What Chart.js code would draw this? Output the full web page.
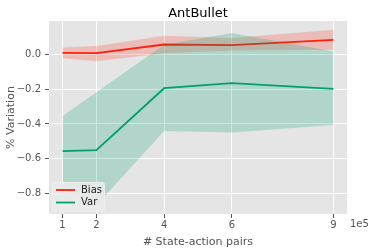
<!DOCTYPE html>
<html>
<head>
<meta charset="utf-8">
<script src="https://cdn.jsdelivr.net/npm/chart.js@4"></script>
<style>
  body { margin: 0; background: #ffffff; }
  canvas { display: block; }
</style>
</head>
<body>
<canvas id="chart" width="374" height="251"></canvas>
<script>
// values
const pairs = [1, 2, 4, 6, 9];             // x, in units of 1e5
const xTickValues = [1, 2, 4, 6, 9];
const yTickValues = [-0.8, -0.6, -0.4, -0.2, 0.0];

const biasMean = [0.012, 0.010, 0.060, 0.056, 0.087];
const biasLow = [-0.019, -0.037, 0.010, 0.025, 0.029];
const biasHigh = [0.042, 0.052, 0.110, 0.097, 0.145];

const varMean = [-0.557, -0.551, -0.193, -0.164, -0.197];
const varLow = [-0.760, -0.870, -0.440, -0.450, -0.406];
const varHigh = [-0.354, -0.216, 0.058, 0.126, 0.019];

const RED = '#ff1f0a';
const GREEN = '#009e73';
const FONT = "'DejaVu Sans', sans-serif";

const toPoints = (ys) => pairs.map((x, i) => ({ x: x, y: ys[i] }));

const lineSet = (label, ys, color) => ({
    label: label,
    data: toPoints(ys),
    borderColor: color,
    borderWidth: 1.8,
    pointRadius: 0,
    fill: false
});

const bandSet = (ys, fillTo, color) => ({
    data: toPoints(ys),
    borderWidth: 0,
    borderColor: 'rgba(0,0,0,0)',
    pointRadius: 0,
    backgroundColor: color,
    fill: fillTo
});

// text that matplotlib draws around the axes, plus the legend box
const decorations = {
    id: 'decorations',
    afterDatasetsDraw(chart) {
        const ctx = chart.ctx;

        // legend
        ctx.save();
        ctx.fillStyle = 'rgba(234,234,234,0.88)';
        ctx.strokeStyle = 'rgba(240,240,240,0.9)';
        ctx.lineWidth = 1;
        ctx.beginPath();
        ctx.roundRect(52.5, 182.5, 52, 28.5, 2);
        ctx.fill();
        ctx.stroke();
        const entries = [['Bias', RED, 190], ['Var', GREEN, 202.5]];
        entries.forEach(([name, color, y]) => {
            ctx.strokeStyle = color;
            ctx.lineWidth = 1.8;
            ctx.beginPath();
            ctx.moveTo(56, y);
            ctx.lineTo(75, y);
            ctx.stroke();
            ctx.fillStyle = '#222222';
            ctx.font = '10px ' + FONT;
            ctx.textAlign = 'left';
            ctx.textBaseline = 'middle';
            ctx.fillText(name, 81, y);
        });
        ctx.restore();
    },
    afterDraw(chart) {
        const ctx = chart.ctx;
        const area = chart.chartArea;
        const cx = (area.left + area.right) / 2;
        const cy = (area.top + area.bottom) / 2;
        ctx.save();
        ctx.fillStyle = '#000000';
        ctx.font = '13px ' + FONT;
        ctx.textAlign = 'center';
        ctx.textBaseline = 'alphabetic';
        ctx.fillText('AntBullet', cx, 17);

        ctx.fillStyle = '#555555';
        ctx.font = '11px ' + FONT;
        ctx.fillText('# State-action pairs', cx, 245);

        ctx.font = '10px ' + FONT;
        ctx.textAlign = 'left';
        ctx.textBaseline = 'top';
        ctx.fillText('1e5', 350, 219);

        ctx.font = '11px ' + FONT;
        ctx.translate(11, cy);
        ctx.rotate(-Math.PI / 2);
        ctx.textAlign = 'center';
        ctx.textBaseline = 'middle';
        ctx.fillText('% Variation', 0, 0);
        ctx.restore();
    }
};

new Chart(document.getElementById('chart'), {
    type: 'line',
    data: {
        // datasets are painted last-first: bias band, bias line, var band, var line
        datasets: [
            lineSet('Var', varMean, GREEN),
            bandSet(varLow, 2, 'rgba(0,158,115,0.22)'),
            bandSet(varHigh, false, 'rgba(0,0,0,0)'),
            lineSet('Bias', biasMean, RED),
            bandSet(biasLow, 5, 'rgba(255,31,10,0.2)'),
            bandSet(biasHigh, false, 'rgba(0,0,0,0)')
        ]
    },
    options: {
        responsive: false,
        animation: false,
        events: [],
        layout: {
            padding: { top: 21, right: 27, left: 0, bottom: 0 }
        },
        plugins: {
            legend: { display: false },
            title: { display: false },
            tooltip: { enabled: false }
        },
        scales: {
            x: {
                type: 'linear',
                min: 0.6,
                max: 9.4,
                afterBuildTicks: (scale) => {
                    scale.ticks = xTickValues.map(v => ({ value: v }));
                },
                afterFit: (scale) => { scale.height = 37; },
                border: { display: false },
                grid: {
                    color: '#ffffff',
                    lineWidth: 1,
                    tickColor: '#555555',
                    tickLength: 4
                },
                ticks: {
                    color: '#555555',
                    font: { family: FONT, size: 10 },
                    padding: 1,
                    maxRotation: 0,
                    callback: (v) => String(v)
                }
            },
            y: {
                type: 'linear',
                min: -0.921,
                max: 0.196,
                afterBuildTicks: (scale) => {
                    scale.ticks = yTickValues.map(v => ({ value: v }));
                },
                afterFit: (scale) => { scale.width = 49; },
                border: { display: false },
                grid: {
                    color: '#ffffff',
                    lineWidth: 1,
                    tickColor: '#555555',
                    tickLength: 4
                },
                ticks: {
                    color: '#555555',
                    font: { family: FONT, size: 10 },
                    padding: 4,
                    callback: (v) => v === 0 ? '0.0' : '\u2212' + Math.abs(v).toFixed(1)
                }
            }
        }
    },
    plugins: [{
        id: 'plotBackground',
        beforeDraw(chart) {
            const a = chart.chartArea;
            chart.ctx.save();
            chart.ctx.fillStyle = '#e5e5e5';
            chart.ctx.fillRect(a.left, a.top, a.right - a.left, a.bottom - a.top);
            chart.ctx.restore();
        }
    }, decorations]
});
</script>
</body>
</html>
